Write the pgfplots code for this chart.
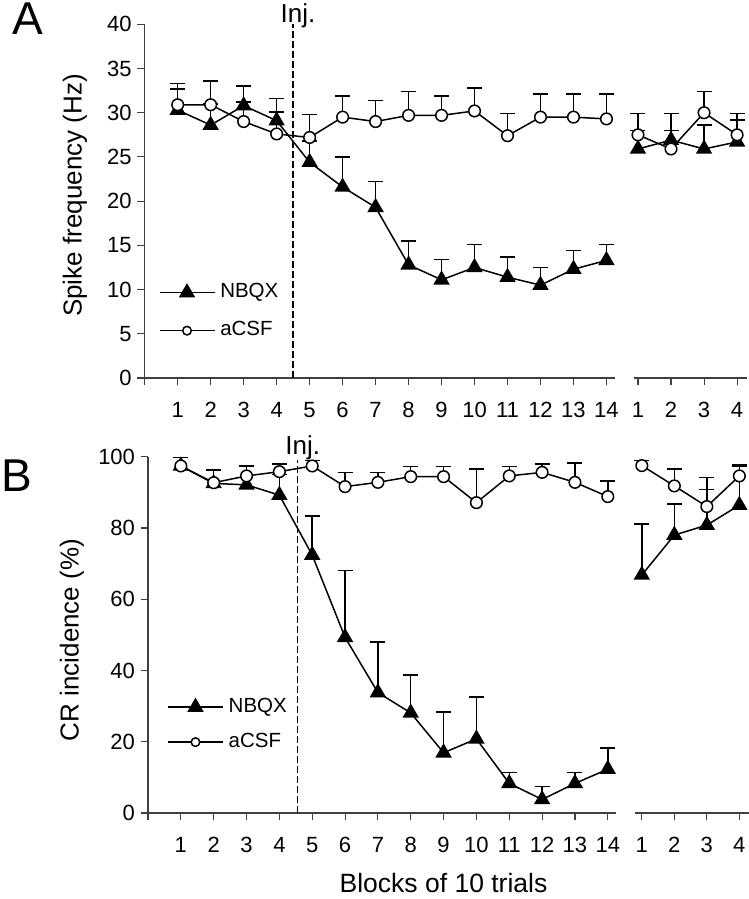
\documentclass[border=0pt]{standalone}
\usepackage{fontspec}
\setmainfont{Liberation Sans}
\usepackage{pgfplots}
\pgfplotsset{compat=1.18}

\pgfplotsset{
  base/.style={scale only axis, anchor=south west, clip=false,
    axis x line=bottom, axis y line=left,
    axis line style={-, line width=1.1pt, black!75},
    tick align=outside, major tick length=7.5pt,
    tick style={line width=1.1pt, black!75},
    /pgf/number format/assume math mode=true,
    tick label style={font=\fontsize{22}{26}\selectfont, black},
    xticklabel style={yshift=-13pt},
    yticklabel style={xshift=-2pt}},
  errs/.style={error bars/y dir=plus, error bars/y explicit,
    error bars/error mark=-,
    error bars/error bar style={line width=1.5pt, black},
    error bars/error mark options={rotate=90, line width=1.5pt, mark size=7.5pt, black}},
  nbqx/.style={black, line width=1.5pt, mark=triangle*, mark size=8pt,
    mark options={solid, fill=black}, errs},
  acsf/.style={black, line width=1.5pt, mark=*, mark size=5.8pt,
    mark options={solid, fill=white}, errs},
  legimg/.style={legend image code/.code={
    \draw[mark repeat=2, mark phase=2, mark size=#1] plot coordinates {(0pt,0pt) (27.5pt,0pt) (55pt,0pt)};}},
  injline/.style={black, line width=1.6pt, dash pattern=on 6.5pt off 3.5pt, forget plot}
}

\begin{document}
\begin{tikzpicture}
\useasboundingbox (0pt,0pt) rectangle (748pt,899pt);

% ---------------- Panel A main ----------------
\begin{axis}[base, at={(144.7pt,521pt)}, width=470pt, height=353.7pt,
  xmin=0, xmax=14.25, ymin=0, ymax=40,
  xtick={0,...,14}, xticklabels={,1,2,3,4,5,6,7,8,9,10,11,12,13,14},
  ytick={0,5,...,40},
  legend style={draw=none, fill=none, inner sep=0pt, at={(axis cs:0.42,7.5)}, anchor=west,
    font=\fontsize{20.5}{24}\selectfont, column sep=5pt, row sep=20pt,
    nodes={inner sep=0pt, text height=14pt, text depth=4pt}},
  legend cell align=left]
\addplot[injline] coordinates {(4.5,0) (4.5,40)};
\addplot[nbqx, legimg=8pt] table[x=x, y=y, y error=e] {
x y e
1 30.3 2.4
2 28.6 2.4
3 30.8 2.2
4 29.1 2.5
5 24.4 2.4
6 21.6 3.4
7 19.3 2.9
8 12.8 2.7
9 11.1 2.3
10 12.5 2.6
11 11.4 2.3
12 10.5 2.0
13 12.3 2.1
14 13.3 1.8
};
\addlegendentry{NBQX}
\addplot[acsf, legimg=4.3pt] table[x=x, y=y, y error=e] {
x y e
1 30.9 2.4
2 30.9 2.7
3 29.0 2.2
4 27.6 2.5
5 27.2 2.6
6 29.5 2.4
7 29.0 2.4
8 29.7 2.7
9 29.7 2.2
10 30.2 2.6
11 27.4 2.5
12 29.5 2.6
13 29.5 2.6
14 29.3 2.8
};
\addlegendentry{aCSF}
\end{axis}

% ---------------- Panel A right ----------------
\begin{axis}[base, at={(634pt,521pt)}, width=113pt, height=353.7pt,
  xmin=0.88, xmax=4.3, ymin=0, ymax=40,
  xtick={1,2,3,4}, ytick=\empty, axis y line=none]
\addplot[nbqx] table[x=x, y=y, y error=e] {
x y e
1 25.9 2.1
2 26.9 3.0
3 25.9 2.7
4 26.7 2.5
};
\addplot[acsf] table[x=x, y=y, y error=e] {
x y e
1 27.5 2.4
2 25.9 2.1
3 30.0 2.4
4 27.5 2.4
};
\end{axis}

% ---------------- Panel B main ----------------
\begin{axis}[base, at={(148pt,86pt)}, width=468pt, height=356.3pt,
  xmin=0, xmax=14.25, ymin=0, ymax=100,
  xtick={0,...,14}, xticklabels={,1,2,3,4,5,6,7,8,9,10,11,12,13,14},
  ytick={0,20,...,100},
  legend style={draw=none, fill=none, inner sep=0pt, at={(axis cs:0.58,24.8)}, anchor=west,
    font=\fontsize{20.5}{24}\selectfont, column sep=5pt, row sep=17pt,
    nodes={inner sep=0pt, text height=14pt, text depth=4pt}},
  legend cell align=left]
\addplot[injline] coordinates {(4.55,0) (4.55,99)};
\addplot[nbqx, legimg=8pt] table[x=x, y=y, y error=e] {
x y e
1 97.4 2.4
2 92.5 3.8
3 92.1 5.3
4 89.2 5.8
5 72.4 11.0
6 49.3 18.7
7 33.8 14.2
8 28.1 10.6
9 16.9 11.5
10 20.8 11.7
11 8.3 3.1
12 3.8 3.6
13 8.3 3.1
14 12.3 5.9
};
\addlegendentry{NBQX}
\addplot[acsf, legimg=4.3pt] table[x=x, y=y, y error=e] {
x y e
1 97.4 2.4
2 92.7 3.6
3 94.6 2.8
4 95.8 2.1
5 97.4 1.5
6 91.6 3.9
7 92.8 2.7
8 94.4 2.8
9 94.4 2.8
10 87.1 9.4
11 94.6 2.6
12 95.6 2.3
13 92.8 5.5
14 88.8 4.4
};
\addlegendentry{aCSF}
\end{axis}

% ---------------- Panel B right ----------------
\begin{axis}[base, at={(635pt,86pt)}, width=114.1pt, height=356.3pt,
  xmin=0.79, xmax=4.3, ymin=0, ymax=100,
  xtick={1,2,3,4}, ytick=\empty, axis y line=none]
\addplot[nbqx] table[x=x, y=y, y error=e] {
x y e
1 66.8 14.3
2 78.0 8.7
3 80.8 10.0
4 86.4 10.8
};
\addplot[acsf] table[x=x, y=y, y error=e] {
x y e
1 97.5 1.4
2 91.8 4.7
3 86.0 8.1
4 94.6 3.1
};
\end{axis}

% ---------------- Texts ----------------
\node[anchor=base west, inner sep=0pt, font=\fontsize{46}{50}\selectfont] at (12pt,864pt) {A};
\node[anchor=base west, inner sep=0pt, font=\fontsize{46}{50}\selectfont] at (1pt,407pt) {B};
\node[anchor=base, inner sep=0pt, font=\fontsize{26}{30}\selectfont] at (298pt,876.3pt) {Inj.};
\node[anchor=base, inner sep=0pt, font=\fontsize{26}{30}\selectfont] at (302.7pt,444pt) {Inj.};
\node[rotate=90, inner sep=0pt, font=\fontsize{26}{30}\selectfont] at (75pt,703.5pt) {Spike frequency (Hz)};
\node[rotate=90, inner sep=0pt, font=\fontsize{26}{30}\selectfont] at (72pt,259pt) {CR incidence (\%)};
\node[anchor=base, inner sep=0pt, font=\fontsize{26.5}{30}\selectfont] at (443.5pt,6pt) {Blocks of 10 trials};
\end{tikzpicture}
\end{document}
